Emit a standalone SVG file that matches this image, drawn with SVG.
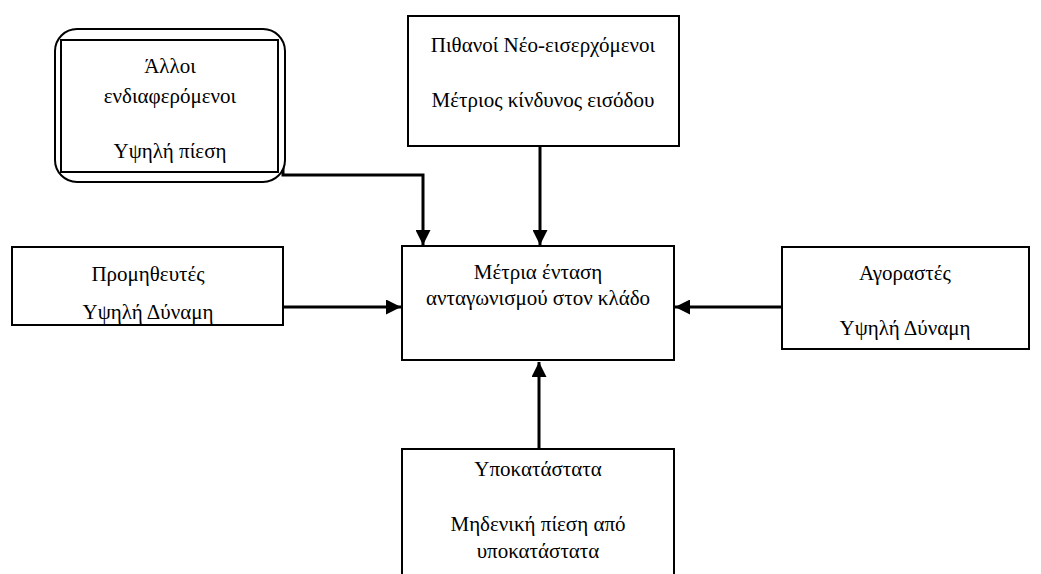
<svg xmlns="http://www.w3.org/2000/svg" width="1041" height="574" viewBox="0 0 1041 574">
<defs>
<style>
.box{fill:#fff;stroke:#000;stroke-width:2}
.t{font-family:"Liberation Serif","Times New Roman",serif;font-size:21px;fill:#000;text-anchor:middle}
.c{fill:none;stroke:#000;stroke-width:3}
</style>
<marker id="ah" viewBox="0 0 10 10" refX="10" refY="5" markerWidth="5" markerHeight="5" markerUnits="strokeWidth" orient="auto">
<path d="M0,0 L10,5 L0,10 Z" fill="#000"/>
</marker>
</defs>
<rect width="1041" height="574" fill="#fff"/>
<g id="connectors">
<path class="c" d="M283,105 V175 H423 V245" marker-end="url(#ah)"/>
<path class="c" d="M540,146 V245" marker-end="url(#ah)"/>
<path class="c" d="M283,307 H401" marker-end="url(#ah)"/>
<path class="c" d="M782,307 H675" marker-end="url(#ah)"/>
<path class="c" d="M539,449 V362" marker-end="url(#ah)"/>
</g>
<g id="others">
<rect class="box" x="55" y="29" width="230" height="153" rx="22"/>
<rect class="box" x="61" y="40" width="217" height="132" fill="none"/>
<text class="t" x="170" y="73">Άλλοι</text>
<text class="t" x="170" y="103">ενδιαφερόμενοι</text>
<text class="t" x="170" y="158">Υψηλή πίεση</text>
</g>
<g id="entrants">
<rect class="box" x="408" y="16" width="271" height="130"/>
<text class="t" x="543" y="52">Πιθανοί Νέο-εισερχόμενοι</text>
<text class="t" x="543" y="107">Μέτριος κίνδυνος εισόδου</text>
</g>
<g id="rivalry">
<rect class="box" x="402" y="246" width="272" height="114"/>
<text class="t" x="538" y="279">Μέτρια ένταση</text>
<text class="t" x="538" y="305">ανταγωνισμού στον κλάδο</text>
</g>
<g id="suppliers">
<rect class="box" x="12" y="247" width="271" height="78"/>
<text class="t" x="148" y="281">Προμηθευτές</text>
<text class="t" x="148" y="319">Υψηλή Δύναμη</text>
</g>
<g id="buyers">
<rect class="box" x="782" y="247" width="247" height="102"/>
<text class="t" x="905" y="280">Αγοραστές</text>
<text class="t" x="905" y="335">Υψηλή Δύναμη</text>
</g>
<g id="substitutes">
<rect class="box" x="402" y="449" width="272" height="130"/>
<text class="t" x="538" y="476">Υποκατάστατα</text>
<text class="t" x="538" y="531">Μηδενική πίεση από</text>
<text class="t" x="538" y="558">υποκατάστατα</text>
</g>
</svg>
